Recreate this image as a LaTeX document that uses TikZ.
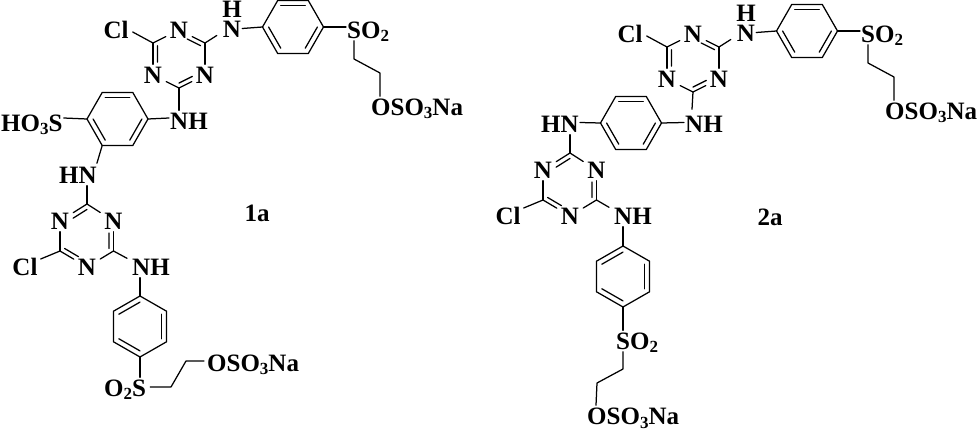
\documentclass[tikz,border=0pt]{standalone}
\usepackage{fontspec}
\setmainfont{Liberation Serif}
\usetikzlibrary{calc}
\newcommand{\ssb}[1]{\raisebox{-3.5pt}{\fontsize{17}{17}\selectfont #1}}
\tikzset{
  bond/.style={line width=1.25pt,line cap=round,line join=round},
  lab/.style={font=\fontsize{25}{25}\selectfont\bfseries,text height=19pt,text depth=2pt,inner xsep=1pt,inner ysep=0pt},
  atomw/.style={lab,inner xsep=4pt},
  hyd/.style={font=\fontsize{25}{25}\selectfont\bfseries,text height=16.5pt,text depth=0pt,inner xsep=1pt,inner ysep=0pt},
  tag/.style={font=\fontsize{25}{25}\selectfont\bfseries,inner sep=0pt}
}
% inner line of a ring double bond
\newcommand{\inr}[3]{\draw[bond] ($(#1)!.2!(#3)$) -- ($(#2)!.2!(#3)$);}
% inner line of a triazine double bond: starts at carbon, stops short of N
\newcommand{\tzd}[3]{\draw[bond] ($(#1)!.17!(#3)$) -- ($($(#1)!.17!(#3)$)!.62!($(#2)!.17!(#3)$)$);}
% flat-topped benzene ring
\newcommand{\flatring}[3]{%
  \coordinate (#1c) at (#2,#3);
  \coordinate (#1l) at (#2-30.5,#3);
  \coordinate (#1tl) at (#2-15.3,#3-26.5);
  \coordinate (#1tr) at (#2+15.3,#3-26.5);
  \coordinate (#1r) at (#2+30.5,#3);
  \coordinate (#1br) at (#2+15.3,#3+26.5);
  \coordinate (#1bl) at (#2-15.3,#3+26.5);
  \draw[bond] (#1l) -- (#1tl) -- (#1tr) -- (#1r) -- (#1br) -- (#1bl) -- cycle;
  \inr{#1tl}{#1tr}{#1c}\inr{#1l}{#1bl}{#1c}\inr{#1r}{#1br}{#1c}}
% pointy-topped benzene ring
\newcommand{\pointring}[3]{%
  \coordinate (#1c) at (#2,#3);
  \coordinate (#1t) at (#2,#3-30.5);
  \coordinate (#1tr) at (#2+26.5,#3-15.3);
  \coordinate (#1br) at (#2+26.5,#3+15.3);
  \coordinate (#1b) at (#2,#3+30.5);
  \coordinate (#1bl) at (#2-26.5,#3+15.3);
  \coordinate (#1tl) at (#2-26.5,#3-15.3);
  \draw[bond] (#1t) -- (#1tr) -- (#1br) -- (#1b) -- (#1bl) -- (#1tl) -- cycle;
  \inr{#1t}{#1tl}{#1c}\inr{#1tr}{#1br}{#1c}\inr{#1b}{#1bl}{#1c}}
% upper block: chlorotriazine, NH, ring, SO2 chain
\newcommand{\upper}[3]{%
  \begin{scope}[shift={(#2,#3)}]
  \coordinate (#1cen) at (179,59);
  \coordinate (#1c1) at (153,43);
  \coordinate (#1c2) at (205,43);
  \coordinate (#1c3) at (179,88);
  \node[atomw] (#1n1) at (179,30) {N};
  \node[atomw] (#1n2) at (205,75) {N};
  \node[atomw] (#1n3) at (153,75) {N};
  \node[lab] (#1cl) at (116,30) {Cl};
  \node[lab] (#1n4) at (232,29.5) {N};
  \node[hyd] (#1h) at (232,9.5) {H};
  \draw[bond] (#1c1) -- (#1n1);
  \draw[bond] (#1n1) -- (#1c2);
  \draw[bond] (#1c2) -- (#1n2);
  \draw[bond] (#1n2) -- (#1c3);
  \draw[bond] (#1c3) -- (#1n3);
  \draw[bond] (#1n3) -- (#1c1);
  \tzd{#1c2}{#1n1}{#1cen}\tzd{#1c1}{#1n3}{#1cen}\tzd{#1c3}{#1n2}{#1cen}
  \draw[bond] (#1c1) -- ([xshift=3pt,yshift=-2pt]#1cl.east);
  \draw[bond] (#1c2) -- ([xshift=-5pt,yshift=-6pt]#1n4.west);
  \flatring{#1a}{293}{27}
  \draw[bond] ([yshift=1pt]#1n4.east) -- (#1al);
  \node[lab,anchor=west] (#1so) at (346,30) {SO\ssb{2}};
  \draw[bond] (#1ar) -- ([yshift=3pt]#1so.west);
  \coordinate (#1e1) at (354,59);
  \coordinate (#1e2) at (380,73);
  \node[lab,anchor=west] (#1os) at (370,107) {OSO\ssb{3}Na};
  \draw[bond] ([xshift=8pt]#1so.south west) -- (#1e1) -- (#1e2) -- ([xshift=10pt]#1os.north west);
  \end{scope}}
% lower triazine
\newcommand{\lowtz}[3]{%
  \coordinate (#1t) at (#2,#3);
  \coordinate (#1cen) at (#2,#3+32);
  \coordinate (#1cl) at (#2-27,#3+47);
  \coordinate (#1cr) at (#2+26.5,#3+47);
  \node[atomw] (#1nl) at (#2-27,#3+17) {N};
  \node[atomw] (#1nr) at (#2+26.5,#3+17) {N};
  \node[atomw] (#1nb) at (#2,#3+63) {N};
  \node[lab] (#1cln) at (#2-62,#3+63) {Cl};
  \draw[bond] (#1t) -- (#1nl);
  \draw[bond] (#1nl) -- (#1cl);
  \draw[bond] (#1cl) -- (#1nb);
  \draw[bond] (#1nb) -- (#1cr);
  \draw[bond] (#1cr) -- (#1nr);
  \draw[bond] (#1nr) -- (#1t);
  \tzd{#1t}{#1nl}{#1cen}\tzd{#1cr}{#1nr}{#1cen}\tzd{#1cl}{#1nb}{#1cen}
  \draw[bond] (#1cl) -- ([xshift=2pt,yshift=8pt]#1cln.east);}
\begin{document}
\begin{tikzpicture}[x=1pt,y=-1pt]
\useasboundingbox (0,0) rectangle (978,430);
% ---------- 1a ----------
\upper{p}{0}{0}
\node[lab,anchor=west] (pnh) at (169,121) {NH};
\draw[bond] (pc3) -- ([xshift=10pt]pnh.north west);
\flatring{q}{117.5}{119}
\draw[bond] (qr) -- ([yshift=3pt]pnh.west);
\node[lab,anchor=west] (pho) at (0,123) {HO\ssb{3}S};
\draw[bond] ([yshift=5pt]pho.east) -- (ql);
\node[lab,anchor=west] (phn) at (58,175) {HN};
\draw[bond] (qbl) -- ([xshift=-1pt,yshift=1pt]phn.north east);
\lowtz{s}{87}{204}
\draw[bond] ([xshift=29pt]phn.south west) -- (st);
\node[lab,anchor=west] (snh) at (131,267) {NH};
\draw[bond] (scr) -- ([xshift=-4pt,yshift=-2pt]snh.north west);
\pointring{u}{140}{326.5}
\draw[bond] ([xshift=9pt]snh.south west) -- (ut);
\node[lab,anchor=west] (uso) at (103,388) {O\ssb{2}S};
\draw[bond] (ub) -- ([xshift=37pt]uso.north west);
\coordinate (ue1) at (171,387);
\coordinate (ue2) at (186,361);
\node[lab,anchor=west] (uos) at (206,363) {OSO\ssb{3}Na};
\draw[bond] ([xshift=3pt,yshift=1pt]uso.east) -- (ue1) -- (ue2) -- ([xshift=-2pt,yshift=2pt]uos.west);
\node[tag] (lab1) at (257,213) {1a};
% ---------- 2a ----------
\upper{v}{514}{4}
\node[lab,anchor=west] (vnh) at (684,124) {NH};
\draw[bond] (vc3) -- ([xshift=8pt,yshift=4pt]vnh.north west);
\flatring{w}{631}{123}
\draw[bond] (wr) -- ([yshift=1.5pt]vnh.west);
\node[lab,anchor=west] (whn) at (540,124) {HN};
\draw[bond] ([yshift=1.5pt]whn.east) -- (wl);
\lowtz{x}{570}{153}
\draw[bond] ([xshift=30pt]whn.south west) -- (xt);
\node[lab,anchor=west] (xnh) at (613,216) {NH};
\draw[bond] (xcr) -- ([xshift=-4pt,yshift=-2pt]xnh.north west);
\pointring{y}{623}{276.5}
\draw[bond] ([xshift=10pt]xnh.south west) -- (yt);
\node[lab,anchor=west] (yso) at (615,341) {SO\ssb{2}};
\draw[bond] (yb) -- ([xshift=8pt]yso.north west);
\coordinate (ye1) at (623,369);
\coordinate (ye2) at (597,383);
\node[lab,anchor=west] (yos) at (586,416) {OSO\ssb{3}Na};
\draw[bond] ([xshift=8pt]yso.south west) -- (ye1) -- (ye2) -- ([xshift=10pt]yos.north west);
\node[tag] (lab2) at (770,217) {2a};
\end{tikzpicture}
\end{document}
